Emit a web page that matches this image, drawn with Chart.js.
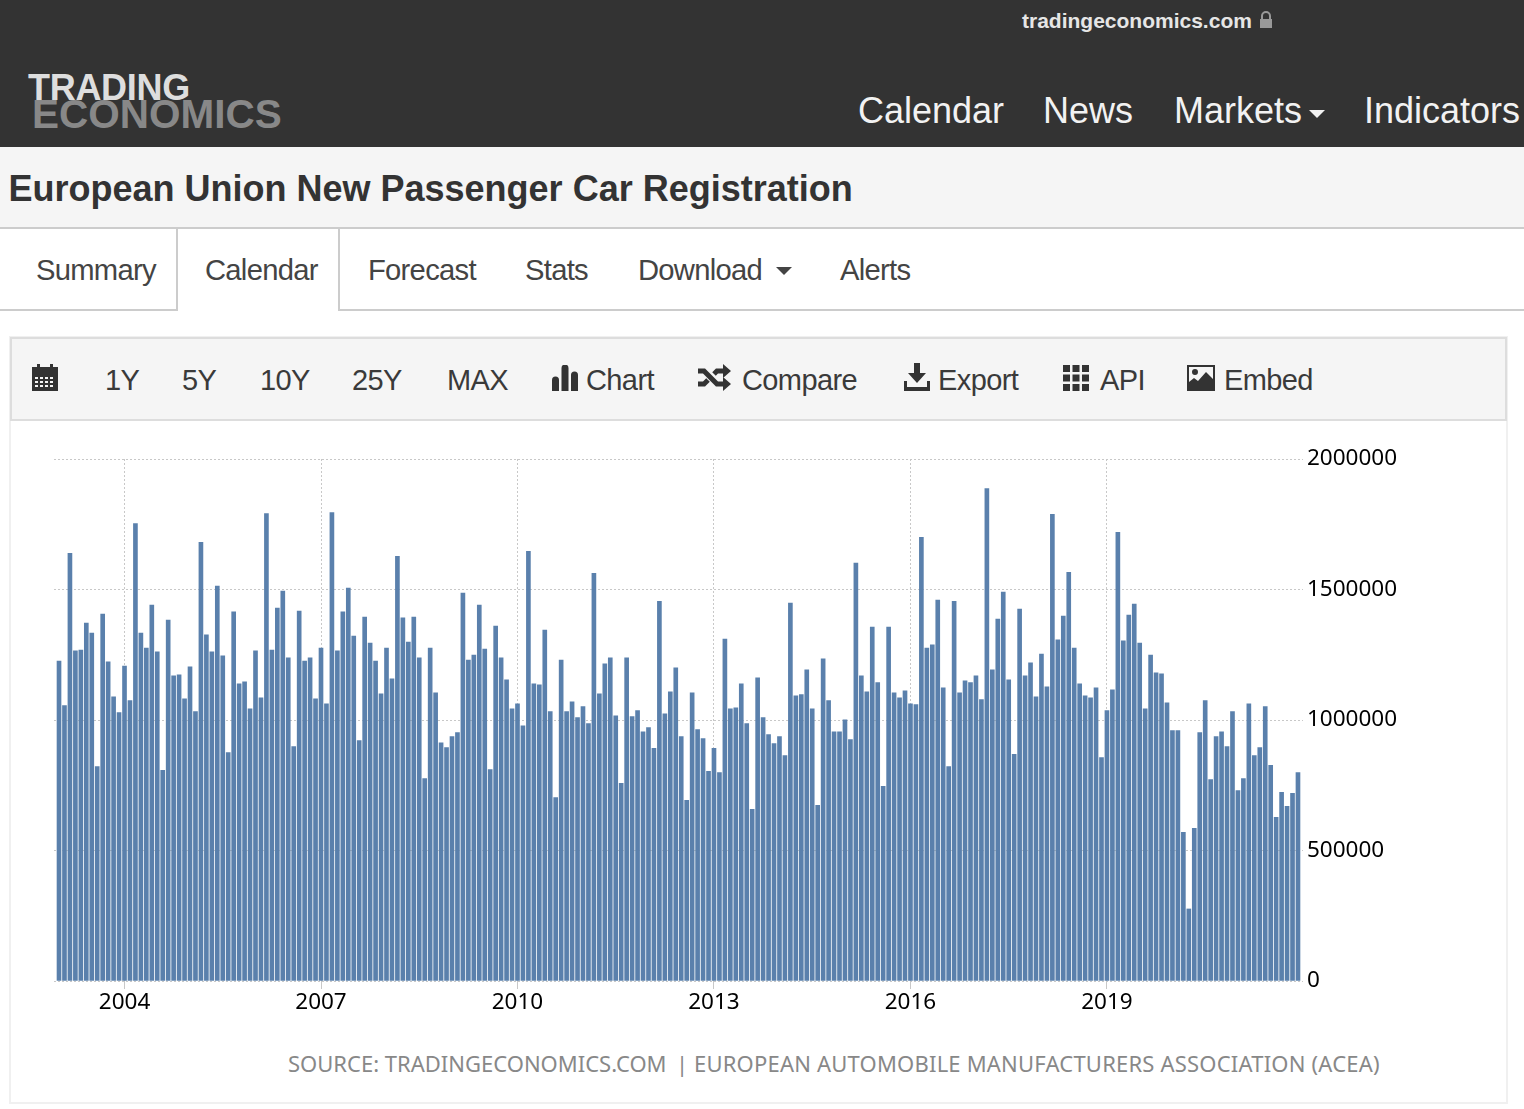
<!DOCTYPE html>
<html>
<head>
<meta charset="utf-8">
<title>European Union New Passenger Car Registration</title>
<script src="https://cdn.jsdelivr.net/npm/chart.js@4/dist/chart.umd.js"></script>
<style>
html, body { margin: 0; padding: 0; background: #fff; }
body { width: 1524px; height: 1109px; position: relative; overflow: hidden; font-family: "Liberation Sans", Arial, sans-serif; color: #333; }
.abs { position: absolute; white-space: nowrap; line-height: 1; }
.box { position: absolute; box-sizing: border-box; }
svg { position: absolute; fill: #333; }
.nav { font-size: 36px; color: #f2f2f2; top: 93px; }
.tab { font-size: 29.2px; top: 256px; color: #444; letter-spacing: -0.72px; }
.tool { font-size: 29px; top: 366px; color: #3a3a3a; letter-spacing: -0.6px; }
.src { top: 1052px; font-size: 22px; color: #888; font-family: "Noto Sans"; }
#chartWrap { position: absolute; left: 0; top: 430px; width: 1524px; height: 610px; }
</style>
</head>
<body>
<div class="box" style="left:0;top:0;width:1524px;height:147px;background:#333"></div>
<div class="abs" style="left:1022px;top:10px;font-size:21px;font-weight:bold;color:#e6e6e6">tradingeconomics.com</div>
<svg style="left:1259px;top:11px" width="14" height="18" viewBox="0 0 14 18"><path fill="#999" d="M2 8V5a5 5 0 0 1 10 0v3h1v9H1V8zm2 0h6V5a3 3 0 0 0-6 0z"/></svg>
<div class="abs" style="left:28px;top:70px;font-size:36px;font-weight:bold;color:#dedede;letter-spacing:-0.3px">TRADING</div>
<div class="abs" style="left:32px;top:94px;font-size:40.5px;font-weight:bold;color:#888">ECONOMICS</div>
<div class="abs nav" style="left:858px">Calendar</div>
<div class="abs nav" style="left:1043px">News</div>
<div class="abs nav" style="left:1174px">Markets</div>
<svg style="left:1309px;top:110px" width="16" height="8" viewBox="0 0 16 8"><path fill="#f2f2f2" d="M0 0h16L8 8z"/></svg>
<div class="abs nav" style="left:1364px">Indicators</div>

<div class="box" style="left:0;top:147px;width:1524px;height:82px;background:#f5f5f5;border-bottom:2px solid #ccc"></div>
<div class="abs" style="left:8.500px;top:171px;font-size:36px;font-weight:bold;color:#333">European Union New Passenger Car Registration</div>

<div class="box" style="left:0;top:309px;width:1524px;height:2px;background:#ccc"></div>
<div class="box" style="left:176px;top:229px;width:164px;height:82px;background:#fff;border-left:2px solid #ccc;border-right:2px solid #ccc"></div>
<div class="abs tab" style="left:36px">Summary</div>
<div class="abs tab" style="left:205px">Calendar</div>
<div class="abs tab" style="left:368px">Forecast</div>
<div class="abs tab" style="left:525px">Stats</div>
<div class="abs tab" style="left:638px">Download</div>
<svg style="left:776px;top:267px" width="16" height="8" viewBox="0 0 16 8"><path fill="#444" d="M0 0h16L8 8z"/></svg>
<div class="abs tab" style="left:840px">Alerts</div>

<div class="box" style="left:9px;top:336px;width:1499px;height:768px;border:2px solid #f0f0f0"></div>
<div class="box" style="left:10px;top:337px;width:1497px;height:84px;background:#f5f5f5;border:2px solid #ddd"></div>
<svg style="left:32px;top:363px" width="26" height="28" viewBox="0 0 26 28"><path d="M0 4h5V1h3v3h10V1h3v3h5v8H0zM0 12h26v16H0z"/><path fill="#f5f5f5" d="M3 14h3v2H3zm5 0h3v2H8zm5 0h3v2h-3zm5 0h3v2h-3zM3 18h3v2H3zm5 0h3v2H8zm5 0h3v2h-3zm5 0h3v2h-3zM3 22h3v2H3zm5 0h3v2H8zm5 0h3v2h-3zm5 0h3v2h-3z"/></svg>
<div class="abs tool" style="left:105px">1Y</div>
<div class="abs tool" style="left:182px">5Y</div>
<div class="abs tool" style="left:260px">10Y</div>
<div class="abs tool" style="left:352px">25Y</div>
<div class="abs tool" style="left:447px">MAX</div>
<svg style="left:552px;top:365px" width="26" height="26" viewBox="0 0 26 26"><path d="M0 15a3.500 3.500 0 0 1 7 0v11H0zM9.500 3a3.500 3.500 0 0 1 7 0v23h-7zM19 10a3.500 3.500 0 0 1 7 0v16h-7z"/></svg>
<div class="abs tool" style="left:586px">Chart</div>
<svg style="left:698px;top:364px" width="33" height="27" viewBox="0 0 33 27"><path fill="none" stroke="#333" stroke-width="5" d="M0 7h6l13 13h7M0 20h6l4-4M16 10l3-3h7"/><path d="M25 0l8 7-8 7zM25 13l8 7-8 7z"/></svg>
<div class="abs tool" style="left:742px">Compare</div>
<svg style="left:904px;top:363px" width="26" height="28" viewBox="0 0 26 28"><path d="M10 0h6v10h6l-9 10-9-10h6zM0 18h3v6h20v-6h3v10H0z"/></svg>
<div class="abs tool" style="left:938px">Export</div>
<svg style="left:1063px;top:365px" width="26" height="26" viewBox="0 0 26 26"><path d="M0 0h7v7H0zm9.500 0h7v7h-7zM19 0h7v7h-7zM0 9.500h7v7H0zm9.500 0h7v7h-7zm9.500 0h7v7h-7zM0 19h7v7H0zm9.500 0h7v7h-7zM19 19h7v7h-7z"/></svg>
<div class="abs tool" style="left:1100px">API</div>
<svg style="left:1187px;top:365px" width="28" height="26" viewBox="0 0 28 26"><path fill-rule="evenodd" d="M0 0h28v26H0zM2 2v15l5-4 4 3 8-9 7 7V2zM8 4a3 3 0 1 1 0 6 3 3 0 0 1 0-6z"/></svg>
<div class="abs tool" style="left:1224px">Embed</div>

<div id="chartWrap"><canvas id="myChart" width="1524" height="610"></canvas></div>
<div class="abs src" style="left:288px">SOURCE: TRADINGECONOMICS.COM</div>
<div class="abs src" style="left:676px">|</div>
<div class="abs src" style="left:694px;letter-spacing:0.2px">EUROPEAN AUTOMOBILE MANUFACTURERS ASSOCIATION (ACEA)</div>

<script>
const months = ['Jan','Feb','Mar','Apr','May','Jun','Jul','Aug','Sep','Oct','Nov','Dec']
const years = [2003,2004,2005,2006,2007,2008,2009,2010,2011,2012,2013,2014,2015,2016,2017,2018,2019,2020,2021]
const yearTicks = [2004,2007,2010,2013,2016,2019]
const valueTicks = [0,500000,1000000,1500000,2000000]

// monthly registrations, thousands, one row per year
const registrations = [
    1226,1055,1639,1265,1268,1371,1333,822,1406,1223,1089,1028,
    1207,1074,1753,1333,1276,1440,1261,807,1383,1169,1173,1081,
    1204,1032,1681,1326,1261,1513,1246,875,1414,1139,1146,1043,
    1265,1085,1791,1268,1429,1494,1238,898,1417,1226,1238,1081,
    1276,1062,1795,1265,1414,1505,1322,921,1394,1295,1226,1100,
    1276,1158,1627,1391,1299,1394,1238,776,1276,1104,913,894,
    936,952,1486,1230,1249,1440,1272,810,1360,1238,1154,1043,
    1062,978,1646,1139,1135,1345,1032,703,1230,1032,1070,1009,
    1051,986,1562,1100,1215,1238,1016,757,1238,1013,1036,955,
    971,891,1455,1024,1108,1200,936,692,1104,963,929,803,
    891,799,1310,1043,1047,1139,986,658,1162,1009,944,910,
    936,864,1448,1093,1097,1192,1043,673,1234,1074,955,955,
    1001,925,1601,1169,1108,1356,1143,746,1356,1104,1085,1112,
    1062,1059,1700,1276,1288,1459,1123,822,1455,1104,1150,1143,
    1169,1078,1887,1192,1387,1490,1154,868,1425,1169,1219,1089,
    1253,1127,1788,1307,1398,1566,1276,1139,1093,1085,1123,856,
    1036,1116,1719,1303,1402,1444,1295,1043,1249,1181,1177,1066,
    959,959,570,276,585,952,1074,772,936,955,898,1032,
    730,776,1062,864,894,1051,826,627,723,669,719,799
]

const categories = []
years.forEach(y => months.forEach(m => categories.push(m + ' ' + y)))

const config = {
    type: 'bar',
    data: {
        labels: categories,
        datasets: [{
            label: 'European Union New Passenger Car Registration',
            data: registrations.map((v, i) => ({ x: i, y: v * 1000 })),
            backgroundColor: '#5a80ac',
            barThickness: 4
        }]
    },
    options: {
        responsive: false,
        animation: false,
        layout: { padding: { left: 54, top: 29, right: 0, bottom: 0 } },
        plugins: { legend: { display: false }, tooltip: { enabled: false } },
        scales: {
            x: {
                type: 'linear',
                offset: false,
                min: -0.92,
                max: 227.92,
                afterBuildTicks: scale => {
                    scale.ticks = yearTicks.map(y => ({ value: (y - years[0]) * 12 }))
                },
                afterFit: scale => { scale.height = 59 },
                grid: { offset: false, color: '#c8c8c8', tickColor: '#c8c8c8', tickLength: 8, tickBorderDash: [] },
                border: { display: false, dash: [2, 2] },
                ticks: {
                    autoSkip: false,
                    maxRotation: 0,
                    padding: 0,
                    color: '#000',
                    font: { family: 'Noto Sans', size: 22.5 },
                    callback: value => categories[value].slice(4)
                }
            },
            y: {
                position: 'right',
                min: 0,
                max: 2000000,
                afterBuildTicks: scale => {
                    scale.ticks = valueTicks.map(v => ({ value: v }))
                },
                afterFit: scale => { scale.width = 221 },
                grid: { color: '#c8c8c8', drawTicks: false },
                border: { display: false, dash: [2, 2] },
                ticks: {
                    padding: 4,
                    color: '#000',
                    font: { family: 'Noto Sans', size: 22.5 },
                    callback: value => String(value)
                }
            }
        }
    }
}

const myChart = new Chart(document.getElementById('myChart').getContext('2d'), config)
</script>
</body>
</html>
